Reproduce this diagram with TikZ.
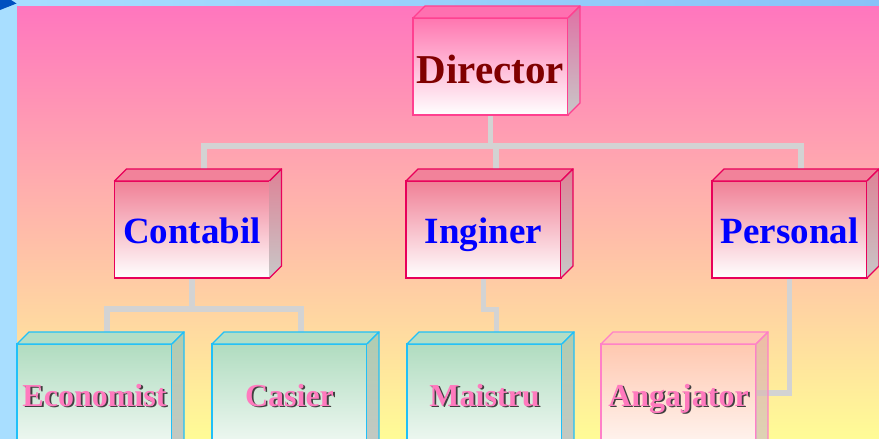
\documentclass[tikz,border=0pt]{standalone}
\usepackage{fontspec}
\setmainfont{Liberation Serif}
\definecolor{bgtop}{RGB}{255,118,190}
\definecolor{bgmid}{RGB}{255,182,174}
\definecolor{bgbot}{RGB}{255,252,150}
\definecolor{skyA}{RGB}{168,222,255}
\definecolor{skyB}{RGB}{136,194,248}
\definecolor{tri}{RGB}{0,80,192}
\definecolor{connc}{RGB}{211,211,211}
\definecolor{dirB}{RGB}{255,64,144}
\definecolor{dirF}{RGB}{255,118,176}
\definecolor{dirT}{RGB}{255,112,176}
\definecolor{dirS}{RGB}{224,112,164}
\definecolor{midB}{RGB}{232,0,90}
\definecolor{midF}{RGB}{240,128,150}
\definecolor{midT}{RGB}{242,130,154}
\definecolor{midS}{RGB}{222,130,150}
\definecolor{lowB}{RGB}{32,192,248}
\definecolor{lowF}{RGB}{176,220,192}
\definecolor{lowT}{RGB}{178,222,198}
\definecolor{lowS}{RGB}{176,204,176}
\definecolor{angB}{RGB}{255,128,200}
\definecolor{angF}{RGB}{255,200,176}
\definecolor{angT}{RGB}{255,200,180}
\definecolor{angS}{RGB}{232,176,168}
\definecolor{sideG}{RGB}{200,200,200}
\definecolor{dirtxt}{RGB}{128,0,0}
\definecolor{bluetxt}{RGB}{0,0,255}
\definecolor{pinktxt}{RGB}{255,122,190}
\newcommand\shtext[1]{\leavevmode\rlap{\kern1.8pt\raisebox{-1.8pt}{\textcolor{black!75}{#1}}}#1}
\tikzset{
  conn/.style={draw=connc, line width=5.5pt, line join=miter},
  face/.style={inner sep=0pt, outer sep=0pt, line width=1.4pt, shade,
    minimum width=155pt},
  dirface/.style={face, draw=dirB, top color=dirF, middle color=dirF!45!white, bottom color=white, minimum height=97pt},
  midface/.style={face, draw=midB, top color=midF, middle color=midF!45!white, bottom color=white, minimum height=97pt},
  lowface/.style={face, draw=lowB, top color=lowF, middle color=lowF!45!white, bottom color=white, minimum height=126pt},
  angface/.style={face, draw=angB, top color=angF, middle color=angF!45!white, bottom color=white, minimum height=126pt},
  lvlone/.style={anchor=base, inner sep=0pt, text=dirtxt, font=\fontsize{41}{48}\selectfont\bfseries},
  lvltwo/.style={anchor=base, inner sep=0pt, text=bluetxt, font=\fontsize{37}{44}\selectfont\bfseries},
  lvlthree/.style={anchor=base, inner sep=0pt, text=pinktxt, font=\fontsize{32}{38}\selectfont\bfseries},
}
% #1 node, #2 border, #3 top face colour, #4 side top colour, #5 side opacity
\newcommand\cubefaces[5]{%
  \filldraw[fill=#3, draw=#2, line width=1.4pt, line join=round]
    (#1.north west) -- ([shift={(12,-12)}]#1.north west) -- ([shift={(12,-12)}]#1.north east) -- (#1.north east) -- cycle;
  \path[top color=#4, bottom color=sideG, fill opacity=#5]
    (#1.north east) -- ([shift={(12,-12)}]#1.north east) -- ([shift={(12,-12)}]#1.south east) -- (#1.south east) -- cycle;
  \draw[draw=#2, line width=1.4pt, line join=round]
    (#1.north east) -- ([shift={(12,-12)}]#1.north east) -- ([shift={(12,-12)}]#1.south east) -- (#1.south east);
}
\begin{document}
\begin{tikzpicture}[x=1pt, y=-1pt]
\useasboundingbox (0,0) rectangle (879,439);
\clip (0,0) rectangle (879,439);
% background
\shade[left color=skyA, right color=skyB] (0,0) rectangle (879,439);
\shade[top color=bgtop, middle color=bgmid, bottom color=bgbot] (17,6) rectangle (879,439);
\fill[tri] (0,0) -- (11,0) -- (16.5,3.5) -- (0,10) -- cycle;

% box front faces (positions)
\path node[dirface] (dir) at (490.5,66.5) {}
      node[midface] (cont) at (192,229.5) {}
      node[midface] (ing) at (483.5,229.5) {}
      node[midface] (pers) at (789.5,229.5) {}
      node[lowface] (econ) at (94.5,407) {}
      node[lowface] (cas) at (289.5,407) {}
      node[lowface] (mai) at (484.5,407) {}
      node[angface] (ang) at (678.5,407) {};

% connectors
\coordinate (bus) at (490.5,146);
\coordinate (bustwo) at (192,309);
\draw[conn] (dir.south) -- (dir.south |- bus);
\draw[conn] ([xshift=12pt]cont.north) |- (bus) -| ([xshift=11.5pt]pers.north);
\draw[conn] ([xshift=12.5pt]ing.north) -- ([xshift=12.5pt]ing.north |- bus);
\draw[conn] (cont.south) -- (cont.south |- bustwo);
\draw[conn] ([xshift=12.5pt]econ.north) |- (bustwo) -| ([xshift=11.5pt]cas.north);
\draw[conn] (ing.south) -- ([yshift=-31.5pt]ing.south) -| ([xshift=12pt]mai.north);
\draw[conn] (pers.south) |- ([yshift=14pt]ang.east);

% faces on top of connectors
\path node[dirface] (dirf) at (dir) {}
      node[midface] (contf) at (cont) {}
      node[midface] (ingf) at (ing) {}
      node[midface] (persf) at (pers) {}
      node[lowface] (econf) at (econ) {}
      node[lowface] (casf) at (cas) {}
      node[lowface] (maif) at (mai) {}
      node[angface] (angf) at (ang) {};
\cubefaces{dir}{dirB}{dirT}{dirS}{1}
\cubefaces{cont}{midB}{midT}{midS}{1}
\cubefaces{ing}{midB}{midT}{midS}{1}
\cubefaces{pers}{midB}{midT}{midS}{1}
\cubefaces{econ}{lowB}{lowT}{lowS}{1}
\cubefaces{cas}{lowB}{lowT}{lowS}{1}
\cubefaces{mai}{lowB}{lowT}{lowS}{1}
\cubefaces{ang}{angB}{angT}{angS}{0.7}

% labels
\node[lvlone] (dirt) at (490.5,83) {Director};
\node[lvltwo] (contt) at (192,243) {Contabil};
\node[lvltwo] (ingt) at (483.5,243) {Inginer};
\node[lvltwo] (perst) at (789.5,243) {Personal};
\node[lvlthree] (econt) at (94.5,406) {\shtext{Economist}};
\node[lvlthree] (cast) at (289.5,406) {\shtext{Casier}};
\node[lvlthree] (mait) at (484.5,406) {\shtext{Maistru}};
\node[lvlthree] (angt) at (678.5,406) {\shtext{Angajator}};
\end{tikzpicture}
\end{document}
